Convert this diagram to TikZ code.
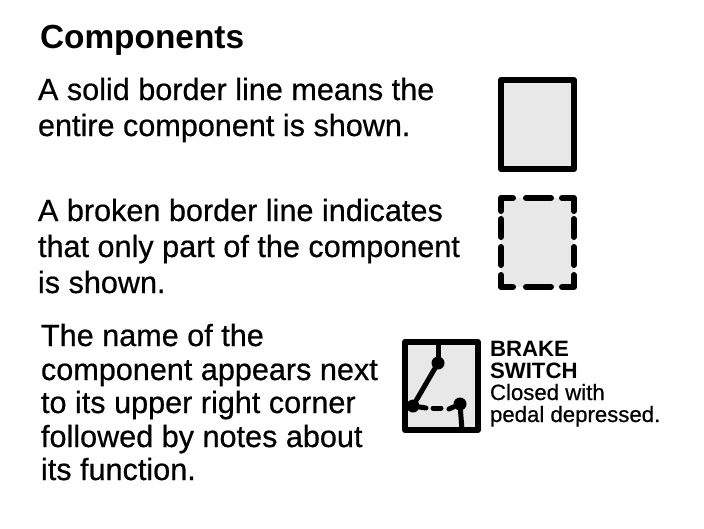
\documentclass[tikz,border=0pt]{standalone}
\usepackage{fontspec}
\setmainfont{Liberation Sans}
\newfontfamily\heavyfont{Liberation Sans}[FakeBold=0.6]
\newcommand{\bodyfont}{\heavyfont\fontsize{30.6}{36}\selectfont}
\newcommand{\smallfont}{\heavyfont\fontsize{22.2}{22}\selectfont}
\tikzset{
  para/.style={anchor=base west,inner sep=0pt,outer sep=0pt,align=left},
  compbox/.style={draw=black,fill=black!9,line width=6pt,line join=round},
  wire/.style={line width=5pt,line cap=round},
  dot/.style={circle,fill=black,inner sep=0pt,minimum size=13pt}
}
\begin{document}
\begin{tikzpicture}[x=1pt,y=-1pt]
\useasboundingbox (0,0) rectangle (704,528);
\fill[white] (0,0) rectangle (704,528);
\node[para,font=\bfseries\fontsize{33.4}{36}\selectfont] (title) at (40,48) {Components};
\node[para,font=\bodyfont] (a1) at (38,100) {A solid border line means the};
\node[para,font=\bodyfont] (a2) at (38,136) {entire component is shown.};
\node[para,font=\bodyfont] (b1) at (38,221) {A broken border line indicates};
\node[para,font=\bodyfont] (b2) at (38,257) {that only part of the component};
\node[para,font=\bodyfont] (b3) at (38,293) {is shown.};
\node[para,font=\bodyfont] (c1) at (41,346) {The name of the};
\node[para,font=\bodyfont] (c2) at (41,380) {component appears next};
\node[para,font=\bodyfont] (c3) at (41,413) {to its upper right corner};
\node[para,font=\bodyfont] (c4) at (41,447) {followed by notes about};
\node[para,font=\bodyfont] (c5) at (41,480) {its function.};
% solid component
\path[compbox] (501,80) rectangle (574,169);
% broken component
\fill[black!9] (501,198) rectangle (574,287);
\begin{scope}[line width=6pt,line cap=round,line join=round]
\draw (501,211) -- (501,198) -- (513,198);
\draw (526,198) -- (551,198);
\draw (562,198) -- (574,198) -- (574,211);
\draw (501,219) -- (501,237);
\draw (574,219) -- (574,237);
\draw (501,247) -- (501,265);
\draw (574,247) -- (574,265);
\draw (501,275) -- (501,287) -- (513,287);
\draw (526,287) -- (551,287);
\draw (562,287) -- (574,287) -- (574,275);
\end{scope}
% brake switch
\node[compbox,outer sep=0pt,minimum width=73pt,minimum height=88pt,inner sep=0pt] (sw) at (441.5,386) {};
\node[dot] (top) at (438,363) {};
\node[dot] (left) at (413,406) {};
\node[dot] (right) at (460,404) {};
\coordinate (topend) at (438,342);
\coordinate (botend) at (462,430);
\coordinate (d1) at (426,408);
\coordinate (d3) at (433,408);
\coordinate (d4) at (441,408);
\coordinate (d5) at (449,409);
\draw[wire] (top) -- (topend);
\draw[wire] (right) -- (botend);
\draw[wire] (top) -- (left);
\draw[wire] (left) -- (d1);
\draw[wire] (d3) -- (d4);
\draw[wire] (right) -- (d5);
\node[para,font=\bfseries\fontsize{22.2}{22}\selectfont] (n1) at (490,356) {BRAKE};
\node[para,font=\bfseries\fontsize{22.2}{22}\selectfont] (n2) at (490,378) {SWITCH};
\node[para,font=\smallfont] (n3) at (490,400) {Closed with};
\node[para,font=\smallfont] (n4) at (490,422) {pedal depressed.};
\end{tikzpicture}
\end{document}
